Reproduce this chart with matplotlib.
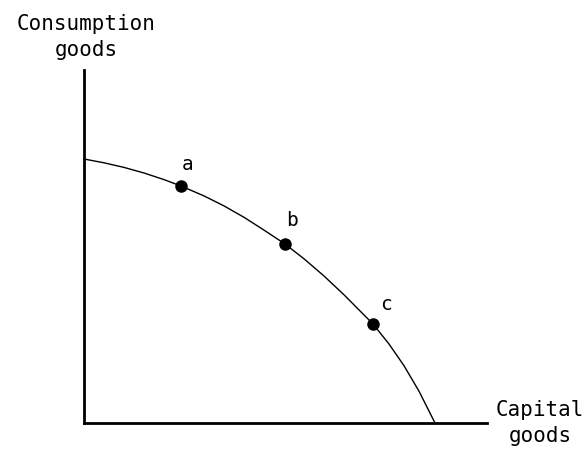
import matplotlib
matplotlib.use("Agg")
import matplotlib.pyplot as plt

# production possibilities curve (pixel-ish units from origin)
curve_x = [0, 20, 40, 60, 80, 97, 120, 140, 160, 180, 201, 220, 240, 260, 289, 305, 320, 335, 351]
curve_y = [264, 260.2, 255.6, 250, 243.4, 237, 227.1, 217.1, 205.7, 192.9, 179,
           164.2, 147, 128.2, 99, 79, 57.3, 31.8, 0]

point_names = ["a", "b", "c"]
point_x = [97, 201, 289]
point_y = [237, 179, 99]
label_dx = [7, 7, 13]
label_dy = [21, 23, 20]

fig = plt.figure(figsize=(5.87, 4.54), dpi=100)
ax = fig.add_axes([84 / 587, 31 / 454, 403 / 587, 353 / 454])
ax.set_xlim(0, 403)
ax.set_ylim(0, 353)

for s in ["top", "right"]:
    ax.spines[s].set_visible(False)
for s in ["left", "bottom"]:
    ax.spines[s].set_linewidth(2)
    ax.spines[s].set_color("black")
ax.set_xticks([])
ax.set_yticks([])

ax.plot(curve_x, curve_y, color="black", lw=1.0, clip_on=False)
ax.plot(point_x, point_y, "o", color="black", ms=8, clip_on=False)
for n, x, y, dx, dy in zip(point_names, point_x, point_y, label_dx, label_dy):
    ax.text(x + dx, y + dy, n, fontsize=14, family="DejaVu Sans Mono",
            ha="center", va="center")

fig.text(86 / 587, 1 - 37 / 454, "Consumption\ngoods", fontsize=15,
         family="DejaVu Sans Mono", ha="center", va="center", linespacing=1.4)
fig.text(540 / 587, 1 - 423 / 454, "Capital\ngoods", fontsize=15,
         family="DejaVu Sans Mono", ha="center", va="center", linespacing=1.4)

fig.savefig("out.png", dpi=100)
